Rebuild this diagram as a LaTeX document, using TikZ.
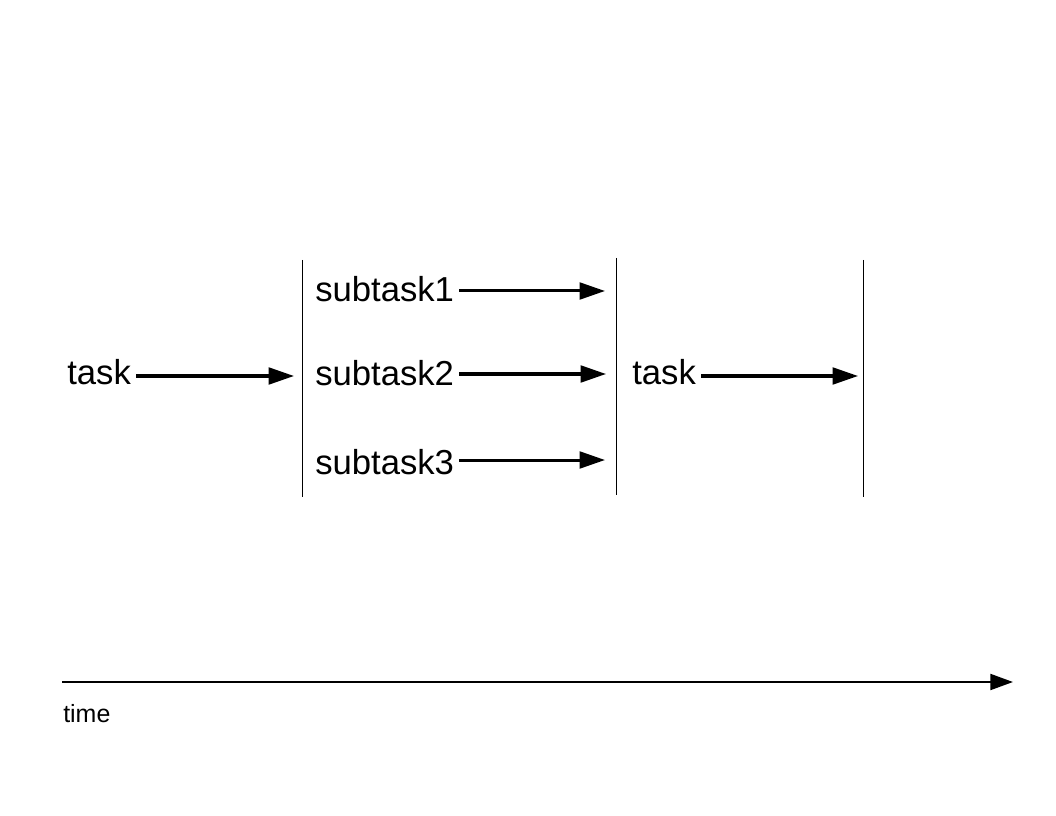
\documentclass[tikz,border=0pt]{standalone}
\usepackage{fontspec}
\setmainfont{Liberation Sans}
\usetikzlibrary{arrows.meta,positioning}
\tikzset{%
  word/.style={inner xsep=3.75pt, inner ysep=0pt, anchor=base west, font=\fontsize{26}{30}\selectfont},
  flow/.style={line width=2.25pt, -{Triangle[length=19pt, width=12.5pt]}},
  bar/.style={line width=0.75pt}
}
\begin{document}
\begin{tikzpicture}[x=0.75pt, y=-0.75pt]
    \useasboundingbox (0,0) rectangle (1056,816);

      % stage bars
      \draw[bar] (302,260) coordinate (bar1top) -- (302,497) coordinate (bar1bot);
      \draw[bar] (616,258) coordinate (bar2top) -- (616,495) coordinate (bar2bot);
      \draw[bar] (863,260) coordinate (bar3top) -- (863,497) coordinate (bar3bot);

      % split
      \node[word] (task) at (62,384) {task};
      \coordinate (taskend) at (294,376);
      \draw[flow] (task.east |- taskend) -- (taskend);

      % subtasks
      \node[word] (sub1) at (310,302) {subtask1};
      \node[word] (sub2) at (310,386) {subtask2};
      \node[word] (sub3) at (310,474) {subtask3};
      \coordinate (sub1end) at (605,291);
      \coordinate (sub2end) at (606,374);
      \coordinate (sub3end) at (605,460);
      \draw[flow] (sub1.east |- sub1end) -- (sub1end);
      \draw[flow] (sub2.east |- sub2end) -- (sub2end);
      \draw[flow] (sub3.east |- sub3end) -- (sub3end);

      % join
      \node[word] (joined) at (627,384) {task};
      \coordinate (joinedend) at (858,376);
      \draw[flow] (joined.east |- joinedend) -- (joinedend);

      % time axis
      \coordinate (t0) at (62,682);
      \coordinate (t1) at (1013,682);
      \draw[line width=1.5pt, -{Triangle[length=17pt, width=12pt]}] (t0) -- (t1);
      \node[inner sep=0pt, anchor=base west, font=\fontsize{18.7}{22}\selectfont] (time) at (63,722) {time};

  \end{tikzpicture}
\end{document}
